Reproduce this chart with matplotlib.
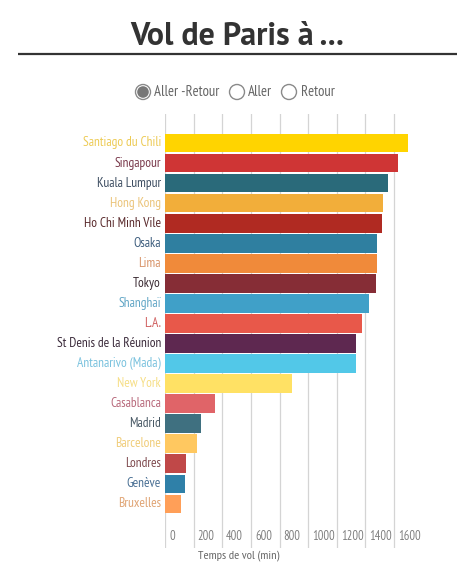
import matplotlib
matplotlib.use("Agg")
import matplotlib.pyplot as plt
from matplotlib.patches import Circle
import matplotlib.transforms as mtransforms

cities = ["Santiago du Chili", "Singapour", "Kuala Lumpur", "Hong Kong", "Ho Chi Minh Vile",
          "Osaka", "Lima", "Tokyo", "Shanghaï", "L.A.", "St Denis de la Réunion",
          "Antanarivo (Mada)", "New York", "Casablanca", "Madrid", "Barcelone",
          "Londres", "Genève", "Bruxelles"]
minutes = [1700, 1625, 1555, 1522, 1515, 1480, 1480, 1471, 1424, 1375, 1336,
           1331, 888, 350, 250, 222, 147, 140, 110]
bar_colors = ["#FFD400", "#CF3535", "#2A6A7A", "#F2AE3A", "#B02A22", "#2F7FA0",
              "#F08A3A", "#862D36", "#40A0C8", "#E8584A", "#5E2850", "#52C8E8",
              "#FFE164", "#E06468", "#3F7080", "#FFC860", "#C04848", "#2F80A8",
              "#FF9F58"]
label_colors = ["#EDCB55", "#7A3A4C", "#3E4E62", "#EBC47A", "#5A2A2C", "#3E5E7E",
                "#D8946A", "#3A2A32", "#62A6C6", "#D06060", "#3A2A3A", "#7AC2DE",
                "#F6DE86", "#B86A7C", "#4A5A66", "#F0CC78", "#7E4A4E", "#4A7094",
                "#E0A474"]
ticks = [0, 200, 400, 600, 800, 1000, 1200, 1400, 1600]
options = ["Aller -Retour", "Aller", "Retour"]

W, H = 474, 578
fig = plt.figure(figsize=(W / 100, H / 100), dpi=100)
narrow = ["PT Sans Narrow", "Liberation Sans Narrow", "DejaVu Sans"]
titlef = ["PT Sans", "Lato", "DejaVu Sans"]

# main axes
x0, x1 = 165, 415
top, bot = 114, 548
ax = fig.add_axes([x0 / W, 1 - bot / H, (x1 - x0) / W, (bot - top) / H])
pitch = 20.05
c0 = 143
xmax = (x1 - x0) / 0.1432
ax.set_xlim(0, xmax)
ax.set_ylim((bot - c0) / pitch, -(c0 - top) / pitch)
for s in ax.spines.values():
    s.set_visible(False)
ax.set_xticks([])
ax.set_yticks([])
for t in ticks:
    ax.axvline(t, color="#d4d4d4", lw=0.9, zorder=0)
ypos = list(range(len(cities)))
ax.barh(ypos, minutes, height=0.93, color=bar_colors, zorder=2)

off = mtransforms.offset_copy(ax.transData, fig=fig, x=-4, y=0, units="dots")
for y, name, col in zip(ypos, cities, label_colors):
    ax.text(0, y, name, transform=off, ha="right", va="center", color=col,
            fontsize=9.6, family=narrow, clip_on=False)
offt = mtransforms.offset_copy(ax.transData, fig=fig, x=4, y=0, units="dots")
ty = (537 - c0) / pitch
for t in ticks:
    ax.text(t, ty, str(t), transform=offt, ha="left", va="center", color="#808080",
            fontsize=9, family=narrow)

# overlay for title / radio buttons
ov = fig.add_axes([0, 0, 1, 1], zorder=-1)
ov.set_xlim(0, W)
ov.set_ylim(H, 0)
ov.axis("off")
ov.text(237.5, 45, "Vol de Paris à ...", ha="center", va="baseline", fontsize=23,
        fontweight="bold", color="#333333", family=titlef)
ov.plot([18, 457], [53.5, 53.5], color="#333333", lw=1.6, solid_capstyle="butt")
ov.text(198, 556, "Temps de vol (min)", ha="left", va="center", fontsize=8.8,
        color="#666666", family=narrow)

rx = [143, 237, 289]
tx = [154, 248, 301]
for i, (cx, lx, lab) in enumerate(zip(rx, tx, options)):
    ov.add_patch(Circle((cx, 92), 7.5, facecolor="white", edgecolor="#8a8a8a", lw=1.0))
    if i == 0:
        ov.add_patch(Circle((cx, 92), 5.8, facecolor="#777777", edgecolor="none"))
    ov.text(lx, 92, lab, ha="left", va="center", fontsize=10.6, color="#666666",
            family=narrow)

fig.savefig("out.png", dpi=100, facecolor="white")
